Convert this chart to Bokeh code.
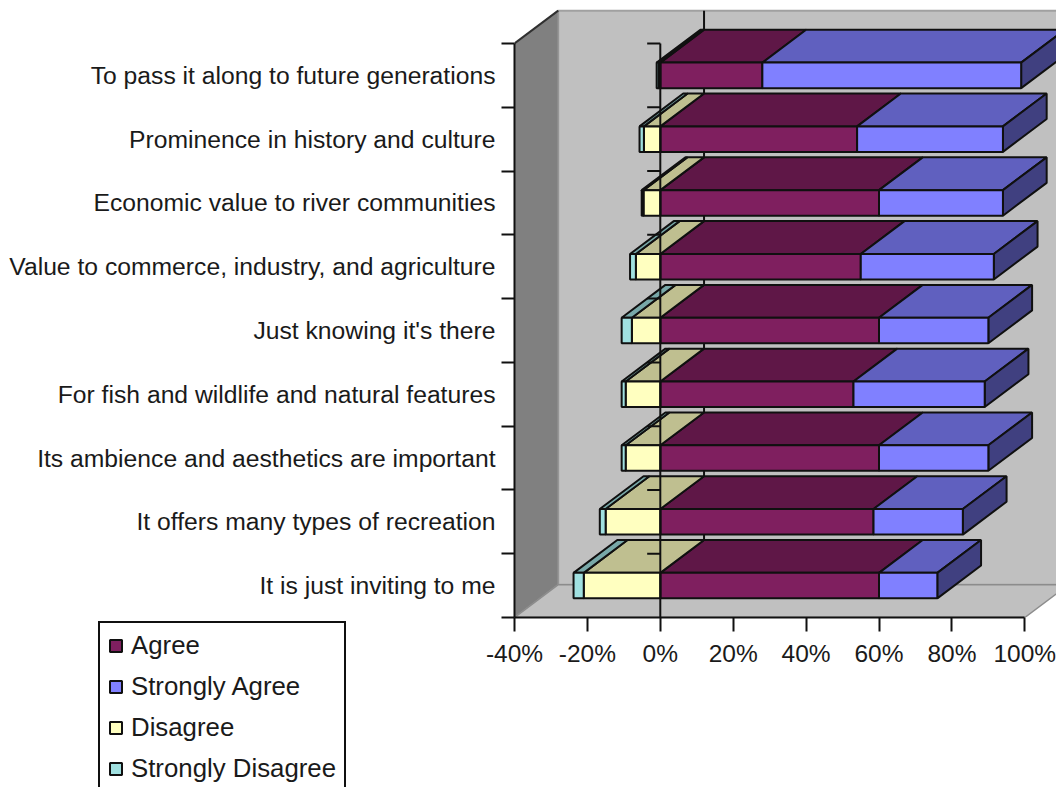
from bokeh.embed import file_html
from bokeh.layouts import column
from bokeh.models import ColumnDataSource, FixedTicker, Legend, LegendItem, Range1d
from bokeh.plotting import figure
from bokeh.resources import INLINE

# Survey reasons, listed from the top row of the chart to the bottom row
categories = [
    "To pass it along to future generations",
    "Prominence in history and culture",
    "Economic value to river communities",
    "Value to commerce, industry, and agriculture",
    "Just knowing it's there",
    "For fish and wildlife and natural features",
    "Its ambience and aesthetics are important",
    "It offers many types of recreation",
    "It is just inviting to me",
]

# Share of responses in percent
agree = [28, 54, 60, 55, 60, 53, 60, 58.5, 60]
strongly_agree = [71, 40, 34, 36.5, 30, 36, 30, 24.5, 16]
disagree = [0.4, 4.5, 4.6, 6.7, 7.8, 9.5, 9.5, 15, 21]
strongly_disagree = [0.6, 1.2, 0.5, 1.6, 2.8, 1.1, 1.1, 1.6, 2.8]

x_ticks = [-40, -20, 0, 20, 40, 60, 80, 100]
x_labels = ["-40%", "-20%", "0%", "20%", "40%", "60%", "80%", "100%"]

# Oblique projection of the chart's depth, in axis units
DEPTH_X = 12.0
DEPTH_Y = 0.515
BAR_HALF = 0.2
PX_PER_PCT = 3.645
PX_PER_ROW = 63.78

INK = "#101010"
FONT = "Liberation Sans"
EDGE = 2

n = len(categories)
x_end = -40 + (1056 - 514) / PX_PER_PCT
y_end = 617 / PX_PER_ROW

p = figure(
    width=1056, height=787,
    output_backend="svg", toolbar_location=None,
    x_range=Range1d(-40, x_end), y_range=Range1d(0, y_end),
    min_border_left=514, min_border_right=0, min_border_top=0, min_border_bottom=170,
    outline_line_color=None, background_fill_color="white", x_axis_location="below",
)
p.grid.visible = False

# Walls and floor of the 3-D box
wall_x = -40 + DEPTH_X
p.patch([wall_x, x_end + DEPTH_X, x_end + DEPTH_X, wall_x],
        [DEPTH_Y, DEPTH_Y, n + DEPTH_Y, n + DEPTH_Y],
        fill_color="#C0C0C0", line_color="#A0A0A0", line_width=2)
p.patch([-40, wall_x, wall_x, -40], [0, DEPTH_Y, n + DEPTH_Y, n],
        fill_color="#808080", line_color="#969696", line_width=1.5)
p.line([-40, wall_x], [n, n + DEPTH_Y], line_color="#303030", line_width=EDGE)
p.patch([-40, wall_x, 100 + DEPTH_X, 100], [0, DEPTH_Y, DEPTH_Y, 0],
        fill_color="#C0C0C0", line_color="#8C8C8C", line_width=1.5)

# Zero line along the back wall, visible in the gaps between bars
p.line([DEPTH_X, DEPTH_X], [DEPTH_Y, n + DEPTH_Y], line_color=INK, line_width=EDGE)

rows = [n - 1 - i + 0.5 for i in range(n)]


def stack_from_zero(first, second, sign):
    """Left and right ends of two segments stacked outward from zero."""
    a0 = [0.0] * n
    a1 = [sign * v for v in first]
    b1 = [sign * (u + v) for u, v in zip(first, second)]
    return (a0, a1), (a1, b1)


agree_ends, strong_ends = stack_from_zero(agree, strongly_agree, 1)
dis_ends, strong_dis_ends = stack_from_zero(disagree, strongly_disagree, -1)

series = [
    ("Agree", agree_ends, "#7F1F5F", "#5F1747"),
    ("Strongly Agree", strong_ends, "#8080FF", "#6060BF"),
    ("Disagree", dis_ends, "#FFFFC0", "#BFBF90"),
    ("Strongly Disagree", strong_dis_ends, "#A0E0E0", "#78A8A8"),
]

for name, (start, stop), front, top_face in series:
    # Top face of every bar in the series
    xs = [[s, e, e + DEPTH_X, s + DEPTH_X] for s, e in zip(start, stop)]
    ys = [[r + BAR_HALF, r + BAR_HALF, r + BAR_HALF + DEPTH_Y, r + BAR_HALF + DEPTH_Y] for r in rows]
    p.patches(xs, ys, fill_color=top_face, line_color=INK, line_width=EDGE)

# Right-hand faces close the stack at the end of the positive side
side_xs = [[e, e + DEPTH_X, e + DEPTH_X, e] for e in strong_ends[1]]
side_ys = [[r - BAR_HALF, r - BAR_HALF + DEPTH_Y, r + BAR_HALF + DEPTH_Y, r + BAR_HALF] for r in rows]
p.patches(side_xs, side_ys, fill_color="#404080", line_color=INK, line_width=EDGE)

# Legend lives in its own small figure, laid over the page's lower left corner
key = figure(
    width=248, height=167, output_backend="svg", toolbar_location=None,
    x_range=Range1d(0, 1), y_range=Range1d(-2, -1),
    x_axis_location=None, y_axis_location=None, outline_line_color=None,
    min_border=0, margin=(-167, 0, 0, 97),
)
key.grid.visible = False

legend_items = []
for name, (start, stop), front, top_face in series:
    source = ColumnDataSource(dict(
        left=[min(s, e) for s, e in zip(start, stop)],
        right=[max(s, e) for s, e in zip(start, stop)],
        bottom=[r - BAR_HALF for r in rows],
        top=[r + BAR_HALF for r in rows],
    ))
    p.quad(left="left", right="right", bottom="bottom", top="top", source=source,
           fill_color=front, line_color=INK, line_width=EDGE)
    swatch = key.quad(left="left", right="right", bottom="bottom", top="top", source=source,
                      fill_color=front, line_color=INK, line_width=EDGE)
    legend_items.append(LegendItem(label=name, renderers=[swatch]))

# Front zero line with its small row ticks, on top of the bars
p.line([0, 0], [0, n], line_color=INK, line_width=EDGE)
p.segment(x0=[-3.6] * n, x1=[0] * n, y0=list(range(1, n + 1)), y1=list(range(1, n + 1)),
          line_color=INK, line_width=EDGE)

# Percent axis
xa = p.xaxis[0]
xa.ticker = FixedTicker(ticks=x_ticks)
xa.major_label_overrides = dict(zip(x_ticks, x_labels))
xa.bounds = (-40, 100)
xa.axis_line_color = INK
xa.axis_line_width = EDGE
xa.major_tick_line_color = INK
xa.major_tick_line_width = EDGE
xa.major_tick_in = 0
xa.major_tick_out = 14
xa.minor_tick_line_color = None
xa.major_label_standoff = 8
xa.major_label_text_font = FONT
xa.major_label_text_font_size = "24.5px"
xa.major_label_text_color = "#1a1a1a"

# Category axis: labels sit at row centres, tick marks on the row boundaries
ya = p.yaxis[0]
ya.ticker = FixedTicker(ticks=rows, minor_ticks=list(range(0, n + 1)))
ya.major_label_overrides = {r: c for r, c in zip(rows, categories)}
ya.bounds = (0, n)
ya.axis_line_color = INK
ya.axis_line_width = EDGE
ya.major_tick_line_color = None
ya.major_tick_in = 0
ya.major_tick_out = 0
ya.minor_tick_line_color = INK
ya.minor_tick_line_width = EDGE
ya.minor_tick_in = 0
ya.minor_tick_out = 13
ya.major_label_standoff = 6
ya.major_label_text_font = FONT
ya.major_label_text_font_size = "24.7px"
ya.major_label_text_color = "#1a1a1a"

legend = Legend(
    items=legend_items, location="top_left", orientation="vertical",
    border_line_color=INK, border_line_width=2, border_line_alpha=1,
    background_fill_color="white", background_fill_alpha=1,
    padding=8, spacing=12, margin=1, glyph_width=15, glyph_height=15, label_standoff=8,
    label_text_font=FONT, label_text_font_size="25.8px", label_text_color="#1a1a1a", label_height=24,
)
key.add_layout(legend, "center")

page = column(p, key, spacing=0)
open("out.html", "w").write(file_html(page, INLINE))
